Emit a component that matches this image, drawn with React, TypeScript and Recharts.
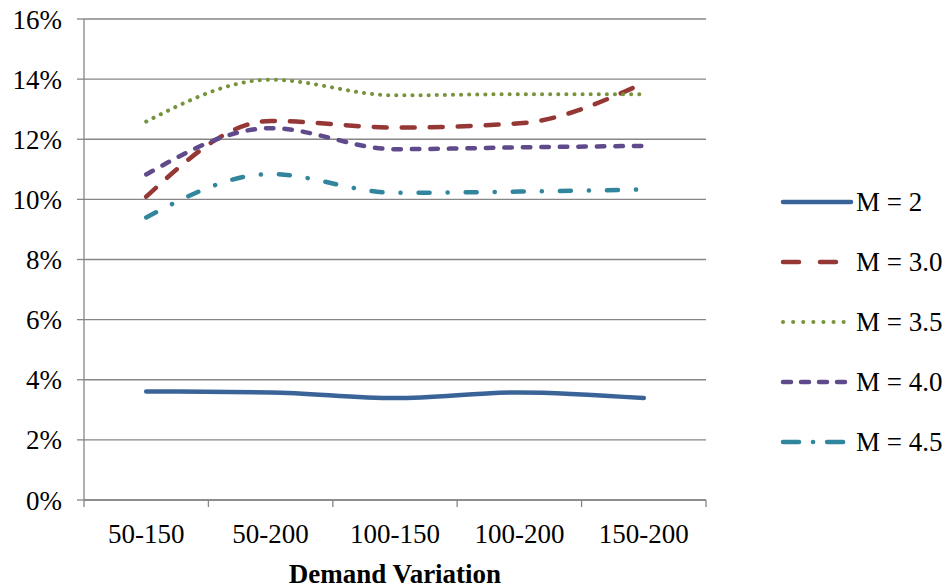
import { ComposedChart, Line, XAxis, YAxis, CartesianGrid, Legend, Label } from 'recharts';

const categories = ['50-150', '50-200', '100-150', '100-200', '150-200'];
const m20 = [3.61, 3.58, 3.39, 3.58, 3.39];
const m30 = [10.09, 12.61, 12.39, 12.53, 13.87];
const m35 = [12.59, 13.98, 13.46, 13.5, 13.5];
const m40 = [10.83, 12.37, 11.67, 11.73, 11.78];
const m45 = [9.4, 10.84, 10.22, 10.26, 10.33];
const yTicks = [0, 2, 4, 6, 8, 10, 12, 14, 16];

const FONT = '"Liberation Serif", "Times New Roman", serif';
const AXIS = '#868686';

const series = [
  { key: 'm20', name: 'M = 2', color: '#3A6498', dash: undefined, legendDash: undefined, width: 4.5 },
  { key: 'm30', name: 'M = 3.0', color: '#953735', dash: '13 15', legendDash: '16 21', width: 4.5 },
  { key: 'm35', name: 'M = 3.5', color: '#77933C', dash: '0.1 8', legendDash: '0.1 10', width: 4 },
  { key: 'm40', name: 'M = 4.0', color: '#5F4B8B', dash: '7.5 11', legendDash: '8 10', width: 4.5 },
  { key: 'm45', name: 'M = 4.5', color: '#31859C', dash: '11 18 0.1 18', legendDash: '16 14 0.1 14', width: 4.5 },
];

const data = categories.map((cat, i) => ({
  cat,
  pos: i + 0.5,
  m20: m20[i],
  m30: m30[i],
  m35: m35[i],
  m40: m40[i],
  m45: m45[i],
}));

// tick positions: integers are category boundaries, halves carry the labels
const xTicks = [0, 0.5, 1, 1.5, 2, 2.5, 3, 3.5, 4, 4.5, 5];

function XTick(props: any) {
  const { x, y, payload } = props;
  const v = payload.value as number;
  if (Number.isInteger(v)) {
    return <line x1={x} x2={x} y1={y} y2={y + 7} stroke={AXIS} strokeWidth={1.3} />;
  }
  return (
    <text x={x} y={y + 24} dy="0.71em" textAnchor="middle" fontFamily={FONT} fontSize={27} fill="#000">
      {categories[Math.floor(v)]}
    </text>
  );
}

function LegendBox() {
  return (
    <div style={{ fontFamily: FONT, fontSize: 27, color: '#000' }}>
      {series.map((s) => (
        <div key={s.key} style={{ height: 60, display: 'flex', alignItems: 'center' }}>
          <svg width={74} height={12} style={{ display: 'block' }}>
            <line
              x1={3}
              x2={71}
              y1={6}
              y2={6}
              stroke={s.color}
              strokeWidth={s.width}
              strokeDasharray={s.legendDash}
              strokeLinecap="round"
            />
          </svg>
          <span style={{ marginLeft: 2, whiteSpace: 'nowrap' }}>{s.name}</span>
        </div>
      ))}
    </div>
  );
}

export default function App() {
  return (
    <div style={{ position: 'absolute', left: 0, top: 0, width: 949, height: 588, background: '#fff' }}>
      <ComposedChart width={949} height={588} data={data} margin={{ top: 19, right: 243, bottom: 0, left: 0 }}>
        <CartesianGrid vertical={false} stroke={AXIS} strokeWidth={1.3} />
        <XAxis
          dataKey="pos"
          type="number"
          domain={[0, 5]}
          ticks={xTicks}
          interval={0}
          tick={<XTick />}
          tickLine={false}
          tickSize={0}
          tickMargin={0}
          height={88}
          axisLine={{ stroke: AXIS, strokeWidth: 1.3 }}
        >
          <Label
            value="Demand Variation"
            position="insideBottom"
            offset={5}
            style={{ fontFamily: FONT, fontSize: 27, fontWeight: 'bold', fill: '#000' }}
          />
        </XAxis>
        <YAxis
          domain={[0, 16]}
          ticks={yTicks}
          interval={0}
          width={84}
          tickSize={7}
          tickMargin={15}
          tickFormatter={(v: number) => `${v}%`}
          tick={{ fontFamily: FONT, fontSize: 27, fill: '#000' }}
          axisLine={{ stroke: AXIS, strokeWidth: 1.3 }}
          tickLine={{ stroke: AXIS, strokeWidth: 1.3 }}
        />
        <Legend
          layout="vertical"
          align="center"
          verticalAlign="middle"
          content={<LegendBox />}
          wrapperStyle={{ position: 'absolute', left: 780, top: 172, width: 169 }}
        />
        {series.map((s) => (
          <Line
            key={s.key}
            dataKey={s.key}
            name={s.name}
            type="monotone"
            stroke={s.color}
            strokeWidth={s.width}
            strokeDasharray={s.dash}
            strokeLinecap="round"
            dot={false}
            activeDot={false}
            isAnimationActive={false}
          />
        ))}
      </ComposedChart>
    </div>
  );
}
